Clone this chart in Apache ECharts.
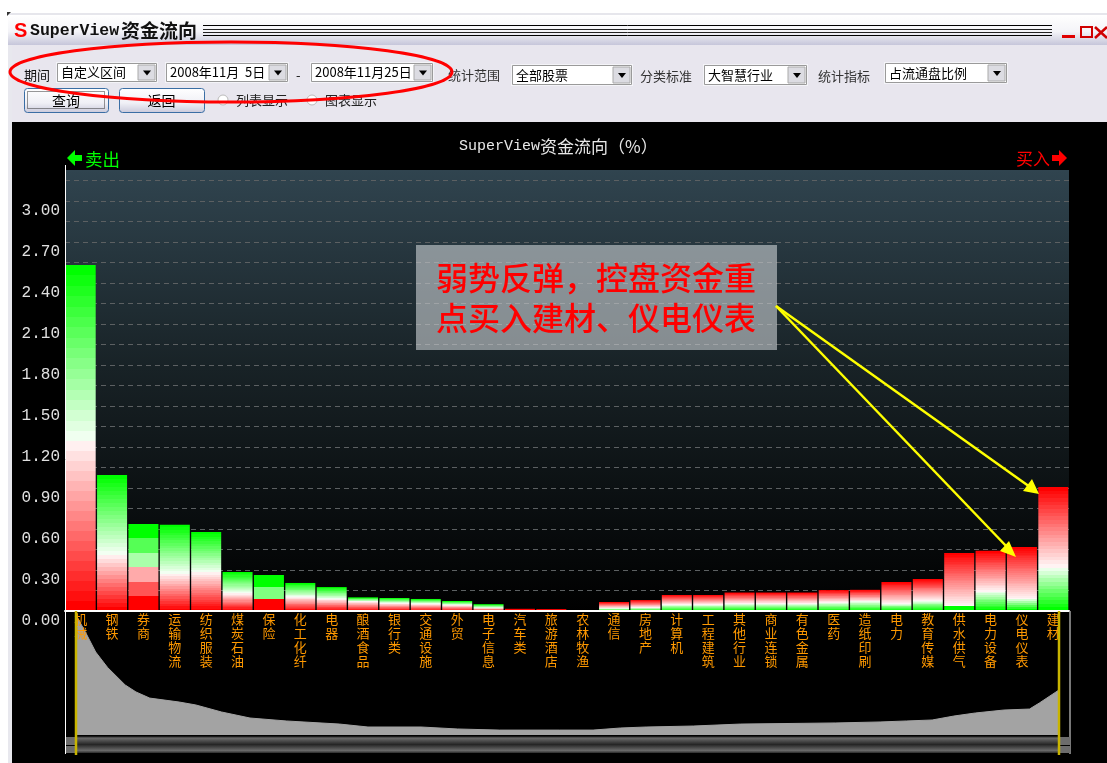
<!DOCTYPE html>
<html>
<head>
<meta charset="utf-8">
<title>SuperView资金流向</title>
<script src="https://cdn.jsdelivr.net/npm/echarts@6/dist/echarts.min.js"></script>
<style>
html,body{margin:0;padding:0;background:#fff;}
#main{width:1107px;height:763px;}
</style>
</head>
<body>
<div id="main"></div>
<script>
var categories = ['机械','钢铁','券商','运输物流','纺织服装','煤炭石油','保险','化工化纤','电器','酿酒食品','银行类','交通设施','外贸','电子信息','汽车类','旅游酒店','农林牧渔','通信','房地产','计算机','工程建筑','其他行业','商业连锁','有色金属','医药','造纸印刷','电力','教育传媒','供水供气','电力设备','仪电仪表','建材'];
var flowValues = [2.53,0.995,0.637,0.63,0.578,0.285,0.263,0.205,0.175,0.10,0.095,0.088,0.073,0.05,0.016,0.014,0,0.066,0.08,0.117,0.117,0.135,0.135,0.135,0.153,0.155,0.212,0.234,0.424,0.44,0.468,0.907];
// share of each bar that is red
var redShare = [0.49,0.41,0.5,0.43,0.49,0.45,0.33,0.5,0.5,0.7,0.6,0.6,0.6,0.45,1,1,1,0.7,0.7,0.6,0.6,0.6,0.6,0.6,0.6,0.55,0.75,0.68,0.92,0.68,0.82,0.65];
var yTickLabels = ['0.00','0.30','0.60','0.90','1.20','1.50','1.80','2.10','2.40','2.70','3.00'];
// overview strip under the chart, position and height both in percent
var overviewPos = [0,1,2,3.2,5,6.1,7.5,10.5,12.2,14.8,17.7,21.4,26.8,29.7,35.1,38.8,43.1,49.2,52.6,52.8,55.4,58,62.8,67.6,77.3,81.8,84.5,87.1,89.3,91.5,94.4,97,98,100];
var overviewHeight = [97.6,83,67.5,55,40.7,35,30,26.8,24.4,18.7,13.8,11.4,8.9,6.5,6.5,4.9,4,4,4,4.9,5.7,6.5,7.3,8.9,9.8,10.6,11.4,12.2,15.4,17.9,20.3,21.1,26,36.6];

var sellBars = 17; // first bars have green on top, the rest red on top
var bandTotal = 34;
var bandOverride = {2:{green:3,red:3}, 6:{green:2,red:1}, 14:{green:0,red:1}, 15:{green:0,red:1}, 28:{green:1,red:30}};

function mixWhite(rgb, t) {
    var r = Math.round(rgb[0] + (255 - rgb[0]) * t);
    var g = Math.round(rgb[1] + (255 - rgb[1]) * t);
    var b = Math.round(rgb[2] + (255 - rgb[2]) * t);
    return 'rgb(' + r + ',' + g + ',' + b + ')';
}

// hard colour steps, saturated at the ends and white where green meets red
function bandGradient(idx) {
    var share = redShare[idx];
    var over = bandOverride[idx];
    var redN = over ? over.red : Math.round(bandTotal * share);
    var greenN = over ? over.green : bandTotal - redN;
    var GREEN = [0,255,0], RED = [255,0,0];
    var topIsGreen = idx < sellBars;
    var topRgb = topIsGreen ? GREEN : RED;
    var botRgb = topIsGreen ? RED : GREEN;
    var topN = topIsGreen ? greenN : redN;
    var botN = topIsGreen ? redN : greenN;
    var mid = topIsGreen ? 1 - share : share;
    var stops = [];
    var i, a, b, c;
    for (i = 0; i < topN; i++) {
        a = mid * i / topN;
        b = mid * (i + 1) / topN;
        c = mixWhite(topRgb, i / topN);
        stops.push({offset:a,color:c},{offset:b,color:c});
    }
    for (i = botN - 1; i >= 0; i--) {
        a = 1 - (1 - mid) * (i + 1) / botN;
        b = 1 - (1 - mid) * i / botN;
        c = mixWhite(botRgb, i / botN);
        stops.push({offset:a,color:c},{offset:b,color:c});
    }
    return new echarts.graphic.LinearGradient(0,0,0,1,stops);
}

var barData = flowValues.map(function (v, i) {
    return {value:v, itemStyle:{color:bandGradient(i)}};
});
var overviewData = overviewPos.map(function (p, i) {
    return [p, overviewHeight[i]];
});

/* window chrome helpers */
var CJK = '"Noto Sans CJK SC",sans-serif';
var MONO = '"Liberation Mono",monospace';
var chrome = [];
function box(x,y,w,h,fill,z,stroke,r,lw,dash) {
    chrome.push({type:'rect',z:z === undefined ? -5 : z,silent:true,
        shape:{x:x,y:y,width:w,height:h,r:r || 0},
        style:{fill:fill,stroke:stroke || null,lineWidth:stroke ? (lw || 1) : 0,lineDash:dash || null}});
}
function label(x,y,str,font,color,z,align) {
    chrome.push({type:'text',z:z === undefined ? -4 : z,silent:true,x:x,y:y,
        style:{text:str,font:font,fill:color,align:align || 'left',verticalAlign:'middle'}});
}
function poly(points,fill,z) {
    chrome.push({type:'polygon',z:z === undefined ? -4 : z,silent:true,
        shape:{points:points},style:{fill:fill}});
}
function seg(x1,y1,x2,y2,color,w,z) {
    chrome.push({type:'line',z:z === undefined ? -4 : z,silent:true,
        shape:{x1:x1,y1:y1,x2:x2,y2:y2},style:{stroke:color,lineWidth:w}});
}
function vgrad(list) {
    return new echarts.graphic.LinearGradient(0,0,0,1,list.map(function (c) {
        return {offset:c[0],color:c[1]};
    }));
}
function combo(x,y,w,h,str) {
    box(x,y,w,h,'#f4f4f8');
    box(x+1.5,y+1.5,w-3,h-3,'#fff',-5,'#9a9a9a');
    box(x+w-20,y+3,17,h-6,'#dcdce2',-4,'#aaa');
    poly([[x+w-15,y+h/2-2],[x+w-7,y+h/2-2],[x+w-11,y+h/2+3]],'#000');
    label(x+5,y+h/2,str,'13px ' + CJK,'#000');
}
function button(x,y,w,h,str) {
    box(x+0.5,y+0.5,w,h,vgrad([[0,'#fff'],[0.6,'#f0f0f6'],[1,'#c8c8da']]),-4,'#3a6ea5',3);
    label(x+w/2,y+h/2+0.5,str,'14px ' + CJK,'#000',-3,'center');
}
function radio(x,y,str) {
    chrome.push({type:'circle',z:-4,silent:true,shape:{cx:x,cy:y,r:5},
        style:{fill:'#fff',stroke:'#bbb',lineWidth:1}});
    label(x+13,y,str,'13px ' + CJK,'#222');
}

// window frame and title bar
box(8,13,1099,2,'#e6e6ec');
box(8,13,4,750,'#e8e8ee');
box(8,15,1099,30,vgrad([[0,'#ffffff'],[0.55,'#f4f4f8'],[1,'#c6c6da']]));
box(12,45,1095,77,'#e8e6ee');
box(12,122,1095,641,'#000');
poly([[7,12],[11,12],[7,16]],'#333');
label(14,31,'S','bold 20px "Liberation Sans",sans-serif','#ff0000');
label(30,31,'SuperView','bold 16.5px ' + MONO,'#111');
label(121,31,'资金流向','bold 19px ' + CJK,'#111');
seg(203,25.5,1052,25.5,'#000',1);
seg(203,29.5,1052,29.5,'#222',1);
seg(203,32.5,1052,32.5,'#222',1);
seg(203,35.5,1052,35.5,'#000',1);
box(1062,35,13,3,'#e00000',-4);
box(1081,27,11,10,'none',-4,'#d00000',0,2);
seg(1095,27,1107,38,'#d00000',2.5);
seg(1107,27,1095,38,'#d00000',2.5);

// query row
label(24,75,'期间','13px ' + CJK,'#111');
combo(56,62,102,21,'自定义区间');
combo(165,62,124,21,'2008年11月  5日');
label(296,75,'-','13px ' + CJK,'#111');
combo(310,62,124,21,'2008年11月25日');
label(448,75,'统计范围','13px ' + CJK,'#333');
combo(511,64,122,22,'全部股票');
label(640,76,'分类标准','13px ' + CJK,'#333');
combo(703,64,105,22,'大智慧行业');
label(818,76,'统计指标','13px ' + CJK,'#333');
combo(884,62,124,22,'占流通盘比例');
button(24,88,84,24,'查询');
box(27.5,91.5,77,17,'none',-3,'#333',0,1,[1,1]);
button(119,88,85,24,'返回');
radio(223,100,'列表显示');
radio(312,100,'图表显示');

// sell / buy hints above the plot
poly([[67,158],[75,150],[75,155],[82,155],[82,161],[75,161],[75,166]],'#00ff00');
label(85,159,'卖出','17.5px ' + CJK,'#00ff00');
label(1016,159,'买入','17px ' + CJK,'#ff0000');
poly([[1067,158],[1059,150],[1059,155],[1052,155],[1052,161],[1059,161],[1059,166]],'#ff0000');

// frame of the plot and overview
seg(65.5,165,65.5,754,'#ffffff',1,6);
seg(1070,611,1070,754,'#a0a0a0',1.5,6);
box(66,737,11,16,'#6c6c6c',6);
box(1060,737,10,16,'#6c6c6c',6);
seg(66,745.5,76,745.5,'#000',1,7);
seg(1060,745.5,1070,745.5,'#000',1,7);
box(77,736,983,17,vgrad([[0,'#000'],[0.12,'#6a6a6a'],[0.5,'#262626'],[0.85,'#6a6a6a'],[1,'#2a2a2a']]),6);
seg(76,611,76,755,'#c8b400',2.5,8);
seg(1059,611,1059,755,'#c8b400',2.5,8);

// hand drawn notes on top of the screenshot
chrome.push({type:'ellipse',z:20,silent:true,shape:{cx:231,cy:72,rx:221,ry:30},
    style:{fill:'none',stroke:'#ff0000',lineWidth:3}});
box(416,245,361,105,'rgba(200,205,208,0.62)',20);
label(436,278,'弱势反弹，控盘资金重','500 32px ' + CJK,'#ff0000',21);
label(436,318,'点买入建材、仪电仪表','500 32px ' + CJK,'#ff0000',21);
seg(776,306,1030,487,'#ffff00',2.5,21);
seg(776,306,1008,548,'#ffff00',2.5,21);
poly([[1039,494],[1023,491],[1032,479]],'#ffff00',21);
poly([[1016,557],[1000,551],[1009,541]],'#ffff00',21);

var option = {
    animation: false,
    backgroundColor: '#fff',
    title: {
        text: '{a|SuperView}{b|资金流向（%）}',
        left: 454,
        top: 133,
        textStyle: {
            fontWeight: 'normal',
            rich: {
                a: {color: '#e8e8e8', fontSize: 15, fontWeight: 'normal', fontFamily: MONO},
                b: {color: '#e8e8e8', fontSize: 17, fontWeight: 'normal', fontFamily: CJK}
            }
        }
    },
    grid: [
        {
            left: 65, top: 170, width: 1004, height: 441,
            show: true,
            borderWidth: 0,
            backgroundColor: vgrad([[0,'#30444f'],[0.45,'#182226'],[1,'#000']])
        },
        {left: 76, top: 612, width: 983, height: 123}
    ],
    xAxis: [
        {
            type: 'category',
            gridIndex: 0,
            data: categories,
            z: 5,
            axisTick: {show: false},
            axisLine: {show: true, lineStyle: {color: '#fff', width: 2}},
            axisLabel: {
                interval: 0,
                margin: 1,
                color: '#ff9900',
                fontSize: 13,
                lineHeight: 14,
                fontFamily: CJK,
                formatter: function (v) { return v.split('').join('\n'); }
            }
        },
        {type: 'value', gridIndex: 1, min: 0, max: 100, show: false}
    ],
    yAxis: [
        {
            type: 'value',
            gridIndex: 0,
            min: 0,
            max: 3.225,
            interval: 0.15,
            axisLine: {show: false},
            axisTick: {show: false},
            splitLine: {
                showMinLine: false,
                showMaxLine: false,
                lineStyle: {color: '#5c6062', type: [5,4], width: 1}
            },
            axisLabel: {
                margin: 5,
                color: '#e0e0e0',
                fontSize: 16,
                padding: [2,0,0,0],
                verticalAlign: 'top',
                fontFamily: MONO,
                formatter: function (v) {
                    var s = v.toFixed(2);
                    return yTickLabels.indexOf(s) >= 0 ? s : '';
                }
            }
        },
        {type: 'value', gridIndex: 1, min: 0, max: 100, show: false}
    ],
    series: [
        {
            name: '资金流向',
            type: 'bar',
            xAxisIndex: 0,
            yAxisIndex: 0,
            barWidth: 30,
            data: barData
        },
        {
            name: '概览',
            type: 'line',
            xAxisIndex: 1,
            yAxisIndex: 1,
            symbol: 'none',
            lineStyle: {color: '#a3a3a3', width: 1},
            areaStyle: {color: '#a3a3a3', opacity: 1},
            data: overviewData
        }
    ],
    graphic: {elements: chrome}
};

var chart = echarts.init(document.getElementById('main'));
chart.setOption(option);
</script>
</body>
</html>
